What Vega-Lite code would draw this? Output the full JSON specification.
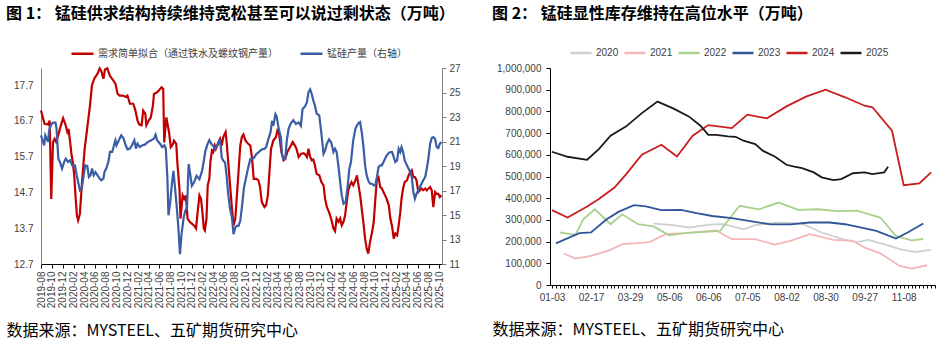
{
  "$schema": "https://vega.github.io/schema/vega-lite/v6.json",
  "background": "white",
  "padding": {"left": 6, "top": 6, "right": 0, "bottom": 4},
  "bounds": "flush",
  "spacing": 108,
  "config": {"view": {"stroke": null}, "font": "Noto Sans CJK SC"},
  "resolve": {"scale": {"color": "independent"}, "legend": {"color": "independent"}},
  "datasets": {
    "demand": [
      {"date":"2019-08-01","v":16.99},{"date":"2019-08-21","v":16.62},{"date":"2019-09-10","v":16.6},{"date":"2019-09-19","v":16.71},{"date":"2019-09-28","v":14.52},{"date":"2019-10-08","v":16.11},{"date":"2019-10-17","v":16.2},{"date":"2019-10-26","v":16.11},{"date":"2019-11-09","v":16.34},{"date":"2019-11-21","v":16.57},{"date":"2019-12-04","v":16.78},{"date":"2019-12-16","v":16.62},{"date":"2019-12-28","v":16.39},
      {"date":"2020-01-04","v":16.48},{"date":"2020-01-14","v":16.06},{"date":"2020-01-20","v":15.78},{"date":"2020-01-28","v":15.55},{"date":"2020-02-05","v":15.17},{"date":"2020-02-12","v":14.61},{"date":"2020-02-20","v":14.06},{"date":"2020-02-27","v":13.92},{"date":"2020-03-08","v":14.1},{"date":"2020-03-20","v":14.99},{"date":"2020-04-04","v":15.92},{"date":"2020-04-19","v":16.52},{"date":"2020-05-04","v":17.13},{"date":"2020-05-15","v":17.69},{"date":"2020-05-28","v":17.88},{"date":"2020-06-16","v":18.02},{"date":"2020-06-28","v":18.17},{"date":"2020-07-07","v":18.1},{"date":"2020-07-19","v":17.88},{"date":"2020-07-28","v":18.14},{"date":"2020-08-10","v":18.17},{"date":"2020-08-24","v":17.97},{"date":"2020-09-13","v":17.83},{"date":"2020-09-25","v":17.74},{"date":"2020-10-07","v":17.46},{"date":"2020-10-19","v":17.41},{"date":"2020-11-07","v":17.41},{"date":"2020-11-22","v":17.37},{"date":"2020-12-02","v":17.41},{"date":"2020-12-16","v":17.18},
      {"date":"2021-01-04","v":17.18},{"date":"2021-01-16","v":16.99},{"date":"2021-01-28","v":16.71},{"date":"2021-02-07","v":16.6},{"date":"2021-02-20","v":16.58},{"date":"2021-03-01","v":16.99},{"date":"2021-03-13","v":16.9},{"date":"2021-03-19","v":16.58},{"date":"2021-04-01","v":16.71},{"date":"2021-04-13","v":16.8},{"date":"2021-04-25","v":17.13},{"date":"2021-05-01","v":17.46},{"date":"2021-05-13","v":17.48},{"date":"2021-05-28","v":17.55},{"date":"2021-06-13","v":17.64},{"date":"2021-06-22","v":17.6},{"date":"2021-06-28","v":16.1},{"date":"2021-07-10","v":16.8},{"date":"2021-07-25","v":16.39},{"date":"2021-08-04","v":15.97},{"date":"2021-08-16","v":16.05},{"date":"2021-08-22","v":16.15},{"date":"2021-09-04","v":16.06},{"date":"2021-09-10","v":15.55},{"date":"2021-09-22","v":14.81},{"date":"2021-09-28","v":13.97},{"date":"2021-10-10","v":14.62},{"date":"2021-10-19","v":14.52},{"date":"2021-10-28","v":14.62},{"date":"2021-11-07","v":13.97},{"date":"2021-11-19","v":13.88},{"date":"2021-12-01","v":13.83},{"date":"2021-12-13","v":13.78},{"date":"2021-12-25","v":13.69},
      {"date":"2022-01-01","v":14.06},{"date":"2022-01-13","v":14.62},{"date":"2022-01-22","v":14.52},{"date":"2022-01-28","v":14.25},{"date":"2022-02-07","v":13.69},{"date":"2022-02-13","v":13.64},{"date":"2022-02-22","v":13.97},{"date":"2022-03-01","v":14.9},{"date":"2022-03-10","v":15.08},{"date":"2022-03-16","v":15.55},{"date":"2022-03-25","v":15.87},{"date":"2022-04-01","v":15.83},{"date":"2022-04-10","v":16.01},{"date":"2022-04-16","v":15.92},{"date":"2022-05-01","v":16.11},{"date":"2022-05-10","v":16.2},{"date":"2022-05-19","v":16.01},{"date":"2022-05-28","v":16.25},{"date":"2022-06-10","v":16.39},{"date":"2022-06-16","v":16.11},{"date":"2022-06-25","v":15.55},{"date":"2022-07-04","v":14.99},{"date":"2022-07-16","v":14.25},{"date":"2022-07-25","v":13.78},{"date":"2022-08-04","v":13.97},{"date":"2022-08-13","v":14.62},{"date":"2022-08-22","v":15.27},{"date":"2022-09-01","v":16.01},{"date":"2022-09-10","v":16.25},{"date":"2022-09-19","v":16.32},{"date":"2022-10-01","v":16.15},{"date":"2022-10-16","v":16.06},{"date":"2022-10-28","v":16.01},{"date":"2022-11-07","v":15.64},{"date":"2022-11-16","v":15.08},{"date":"2022-12-01","v":15.08},{"date":"2022-12-13","v":15.04},{"date":"2022-12-22","v":14.85},
      {"date":"2023-01-01","v":14.43},{"date":"2023-01-16","v":14.29},{"date":"2023-01-25","v":14.34},{"date":"2023-02-04","v":14.62},{"date":"2023-02-13","v":15.27},{"date":"2023-02-22","v":15.92},{"date":"2023-03-07","v":16.15},{"date":"2023-03-22","v":16.25},{"date":"2023-04-01","v":16.48},{"date":"2023-04-10","v":16.29},{"date":"2023-04-22","v":15.83},{"date":"2023-05-04","v":15.6},{"date":"2023-05-13","v":15.64},{"date":"2023-05-25","v":15.83},{"date":"2023-06-10","v":15.97},{"date":"2023-06-25","v":16.11},{"date":"2023-07-07","v":16.01},{"date":"2023-07-16","v":15.92},{"date":"2023-07-28","v":15.69},{"date":"2023-08-10","v":15.78},{"date":"2023-08-25","v":15.8},{"date":"2023-09-04","v":15.76},{"date":"2023-09-13","v":15.69},{"date":"2023-09-22","v":15.92},{"date":"2023-10-01","v":15.7},{"date":"2023-10-10","v":15.6},{"date":"2023-10-19","v":15.62},{"date":"2023-10-28","v":15.46},{"date":"2023-11-07","v":15.22},{"date":"2023-11-22","v":15.18},{"date":"2023-12-04","v":14.99},{"date":"2023-12-16","v":14.9},{"date":"2023-12-25","v":14.52},
      {"date":"2024-01-04","v":14.29},{"date":"2024-01-16","v":14.15},{"date":"2024-01-28","v":13.97},{"date":"2024-02-10","v":13.69},{"date":"2024-02-19","v":13.62},{"date":"2024-02-28","v":13.97},{"date":"2024-03-10","v":13.88},{"date":"2024-03-19","v":13.97},{"date":"2024-03-28","v":13.78},{"date":"2024-04-07","v":13.88},{"date":"2024-04-16","v":14.06},{"date":"2024-04-25","v":14.43},{"date":"2024-05-04","v":14.76},{"date":"2024-05-13","v":14.9},{"date":"2024-05-22","v":14.99},{"date":"2024-06-01","v":14.9},{"date":"2024-06-13","v":15.04},{"date":"2024-06-22","v":15.18},{"date":"2024-07-01","v":14.9},{"date":"2024-07-10","v":14.62},{"date":"2024-07-19","v":14.25},{"date":"2024-07-28","v":13.88},{"date":"2024-08-07","v":13.41},{"date":"2024-08-16","v":13.13},{"date":"2024-08-25","v":12.99},{"date":"2024-09-04","v":13.32},{"date":"2024-09-16","v":13.6},{"date":"2024-09-25","v":13.88},{"date":"2024-10-04","v":14.52},{"date":"2024-10-13","v":15.08},{"date":"2024-10-22","v":15.13},{"date":"2024-11-01","v":14.85},{"date":"2024-11-10","v":14.81},{"date":"2024-11-19","v":14.71},{"date":"2024-11-28","v":14.62},{"date":"2024-12-07","v":14.52},{"date":"2024-12-19","v":14.34},{"date":"2024-12-28","v":13.97},
      {"date":"2025-01-07","v":13.74},{"date":"2025-01-16","v":13.41},{"date":"2025-01-25","v":13.55},{"date":"2025-02-04","v":13.5},{"date":"2025-02-13","v":13.78},{"date":"2025-02-22","v":14.15},{"date":"2025-03-01","v":14.52},{"date":"2025-03-10","v":14.81},{"date":"2025-03-19","v":14.99},{"date":"2025-04-01","v":15.04},{"date":"2025-04-10","v":15.18},{"date":"2025-04-19","v":15.27},{"date":"2025-04-28","v":15.32},{"date":"2025-05-07","v":15.13},{"date":"2025-05-16","v":15.13},{"date":"2025-05-25","v":15.04},{"date":"2025-06-04","v":14.71},{"date":"2025-06-13","v":14.76},{"date":"2025-06-22","v":14.81},{"date":"2025-07-01","v":14.76},{"date":"2025-07-13","v":14.81},{"date":"2025-07-22","v":14.76},{"date":"2025-08-01","v":14.81},{"date":"2025-08-10","v":14.85},{"date":"2025-08-19","v":14.76},{"date":"2025-08-28","v":14.29},{"date":"2025-09-07","v":14.71},{"date":"2025-09-16","v":14.66},{"date":"2025-09-25","v":14.66},{"date":"2025-10-04","v":14.57},{"date":"2025-10-13","v":14.62}
    ],
    "output": [
      {"date":"2019-08-01","v":21.5},{"date":"2019-08-19","v":20.69},{"date":"2019-08-25","v":21.5},{"date":"2019-09-02","v":21.24},{"date":"2019-09-10","v":20.97},{"date":"2019-09-16","v":21.91},{"date":"2019-09-25","v":22.3},{"date":"2019-10-07","v":22.54},{"date":"2019-10-22","v":22.54},{"date":"2019-10-28","v":22.05},{"date":"2019-11-07","v":19.6},{"date":"2019-11-16","v":19.33},{"date":"2019-11-28","v":18.79},{"date":"2019-12-10","v":19.33},{"date":"2019-12-19","v":19.6},
      {"date":"2020-01-01","v":19.33},{"date":"2020-01-13","v":19.46},{"date":"2020-01-24","v":19.06},{"date":"2020-02-09","v":19.06},{"date":"2020-02-19","v":18.24},{"date":"2020-02-27","v":17.7},{"date":"2020-03-08","v":17.02},{"date":"2020-03-19","v":17.2},{"date":"2020-04-01","v":18.5},{"date":"2020-04-08","v":19.06},{"date":"2020-04-19","v":19.0},{"date":"2020-04-28","v":18.1},{"date":"2020-05-07","v":18.24},{"date":"2020-05-16","v":18.79},{"date":"2020-05-25","v":18.24},{"date":"2020-06-04","v":18.5},{"date":"2020-06-16","v":18.24},{"date":"2020-06-28","v":17.97},{"date":"2020-07-07","v":17.84},{"date":"2020-07-19","v":17.97},{"date":"2020-07-25","v":18.5},{"date":"2020-08-04","v":18.79},{"date":"2020-08-16","v":19.33},{"date":"2020-08-25","v":20.15},{"date":"2020-09-07","v":20.15},{"date":"2020-09-19","v":20.82},{"date":"2020-09-25","v":21.1},{"date":"2020-10-01","v":20.69},{"date":"2020-10-10","v":20.97},{"date":"2020-10-19","v":21.24},{"date":"2020-10-28","v":21.5},{"date":"2020-11-10","v":21.24},{"date":"2020-11-22","v":20.69},{"date":"2020-12-02","v":20.36},{"date":"2020-12-16","v":20.42},{"date":"2020-12-28","v":20.69},
      {"date":"2021-01-10","v":21.1},{"date":"2021-01-19","v":20.42},{"date":"2021-01-28","v":20.82},{"date":"2021-02-10","v":20.55},{"date":"2021-02-25","v":20.69},{"date":"2021-03-10","v":20.74},{"date":"2021-03-28","v":20.97},{"date":"2021-04-16","v":21.1},{"date":"2021-05-01","v":21.24},{"date":"2021-05-10","v":21.56},{"date":"2021-05-19","v":21.1},{"date":"2021-06-04","v":20.82},{"date":"2021-06-16","v":20.55},{"date":"2021-06-28","v":20.69},{"date":"2021-07-07","v":20.42},{"date":"2021-07-16","v":17.97},{"date":"2021-07-22","v":14.98},{"date":"2021-08-01","v":16.07},{"date":"2021-08-10","v":17.51},{"date":"2021-08-19","v":18.6},{"date":"2021-08-28","v":17.24},{"date":"2021-09-07","v":15.61},{"date":"2021-09-16","v":13.98},{"date":"2021-09-25","v":11.8},{"date":"2021-10-04","v":13.44},{"date":"2021-10-16","v":14.8},{"date":"2021-10-25","v":15.34},{"date":"2021-11-04","v":15.61},{"date":"2021-11-13","v":19.16},{"date":"2021-11-22","v":18.34},{"date":"2021-12-01","v":17.38},{"date":"2021-12-13","v":17.65},{"date":"2021-12-28","v":18.2},
      {"date":"2022-01-13","v":17.92},{"date":"2022-01-28","v":18.6},{"date":"2022-02-07","v":19.43},{"date":"2022-02-16","v":20.24},{"date":"2022-02-28","v":20.79},{"date":"2022-03-10","v":21.11},{"date":"2022-03-22","v":20.79},{"date":"2022-04-01","v":20.65},{"date":"2022-04-10","v":20.38},{"date":"2022-04-22","v":20.65},{"date":"2022-05-01","v":20.84},{"date":"2022-05-10","v":21.2},{"date":"2022-05-19","v":19.7},{"date":"2022-05-28","v":19.43},{"date":"2022-06-07","v":19.3},{"date":"2022-06-16","v":18.2},{"date":"2022-06-25","v":16.7},{"date":"2022-07-04","v":15.61},{"date":"2022-07-16","v":14.8},{"date":"2022-07-25","v":13.44},{"date":"2022-08-04","v":13.98},{"date":"2022-08-13","v":14.12},{"date":"2022-08-22","v":14.12},{"date":"2022-09-01","v":14.53},{"date":"2022-09-10","v":15.61},{"date":"2022-09-22","v":17.24},{"date":"2022-10-04","v":18.06},{"date":"2022-10-16","v":18.88},{"date":"2022-10-28","v":19.56},{"date":"2022-11-07","v":19.56},{"date":"2022-11-19","v":19.7},{"date":"2022-12-01","v":19.97},{"date":"2022-12-13","v":20.11},{"date":"2022-12-22","v":20.24},
      {"date":"2023-01-04","v":20.38},{"date":"2023-01-13","v":20.38},{"date":"2023-01-25","v":20.52},{"date":"2023-02-07","v":21.2},{"date":"2023-02-19","v":21.74},{"date":"2023-02-28","v":22.69},{"date":"2023-03-07","v":22.28},{"date":"2023-03-19","v":23.24},{"date":"2023-03-25","v":23.1},{"date":"2023-04-07","v":22.01},{"date":"2023-04-19","v":21.33},{"date":"2023-04-25","v":19.97},{"date":"2023-05-04","v":19.56},{"date":"2023-05-13","v":19.56},{"date":"2023-05-22","v":21.06},{"date":"2023-06-01","v":22.01},{"date":"2023-06-13","v":22.47},{"date":"2023-06-28","v":22.74},{"date":"2023-07-13","v":22.42},{"date":"2023-07-28","v":22.56},{"date":"2023-08-10","v":22.28},{"date":"2023-08-19","v":23.64},{"date":"2023-09-04","v":23.9},{"date":"2023-09-13","v":24.22},{"date":"2023-09-22","v":25.04},{"date":"2023-10-01","v":25.26},{"date":"2023-10-10","v":24.9},{"date":"2023-10-19","v":24.36},{"date":"2023-10-28","v":23.95},{"date":"2023-11-07","v":23.27},{"date":"2023-11-22","v":23.13},{"date":"2023-12-04","v":21.63},{"date":"2023-12-16","v":20.0},{"date":"2023-12-25","v":20.27},
      {"date":"2024-01-04","v":20.82},{"date":"2024-01-16","v":21.17},{"date":"2024-01-28","v":20.95},{"date":"2024-02-10","v":20.14},{"date":"2024-02-19","v":20.41},{"date":"2024-02-28","v":20.14},{"date":"2024-03-10","v":18.91},{"date":"2024-03-19","v":17.69},{"date":"2024-03-28","v":16.6},{"date":"2024-04-07","v":15.92},{"date":"2024-04-19","v":16.06},{"date":"2024-05-01","v":17.42},{"date":"2024-05-10","v":18.78},{"date":"2024-05-19","v":19.32},{"date":"2024-06-01","v":21.09},{"date":"2024-06-13","v":22.04},{"date":"2024-06-22","v":22.31},{"date":"2024-07-01","v":22.5},{"date":"2024-07-10","v":22.58},{"date":"2024-07-19","v":21.77},{"date":"2024-07-28","v":20.68},{"date":"2024-08-07","v":19.05},{"date":"2024-08-16","v":18.23},{"date":"2024-08-25","v":17.82},{"date":"2024-09-04","v":17.55},{"date":"2024-09-16","v":17.55},{"date":"2024-09-25","v":17.42},{"date":"2024-10-04","v":17.42},{"date":"2024-10-13","v":18.1},{"date":"2024-10-22","v":18.91},{"date":"2024-11-01","v":19.05},{"date":"2024-11-10","v":19.05},{"date":"2024-11-19","v":19.32},{"date":"2024-11-28","v":19.59},{"date":"2024-12-07","v":19.86},{"date":"2024-12-19","v":20.08},{"date":"2024-12-28","v":20.14},
      {"date":"2025-01-07","v":20.14},{"date":"2025-01-16","v":19.73},{"date":"2025-01-25","v":19.32},{"date":"2025-02-04","v":19.46},{"date":"2025-02-13","v":20.41},{"date":"2025-02-22","v":20.14},{"date":"2025-03-01","v":20.54},{"date":"2025-03-10","v":20.14},{"date":"2025-03-19","v":19.46},{"date":"2025-04-01","v":19.05},{"date":"2025-04-10","v":18.78},{"date":"2025-04-19","v":18.51},{"date":"2025-04-28","v":18.1},{"date":"2025-05-07","v":16.88},{"date":"2025-05-16","v":16.33},{"date":"2025-05-25","v":16.74},{"date":"2025-06-04","v":17.01},{"date":"2025-06-13","v":17.28},{"date":"2025-06-22","v":17.55},{"date":"2025-07-01","v":17.82},{"date":"2025-07-13","v":18.1},{"date":"2025-07-22","v":18.78},{"date":"2025-08-01","v":19.73},{"date":"2025-08-10","v":20.82},{"date":"2025-08-19","v":21.28},{"date":"2025-08-28","v":21.36},{"date":"2025-09-07","v":21.22},{"date":"2025-09-16","v":20.54},{"date":"2025-09-25","v":20.46},{"date":"2025-10-04","v":20.82},{"date":"2025-10-13","v":20.95}
    ],
    "stock": [
      {"year":"2020","week":26,"stock":283000},{"year":"2020","week":31,"stock":276000},{"year":"2020","week":35,"stock":265000},{"year":"2020","week":41,"stock":279000},{"year":"2020","week":44,"stock":280000},{"year":"2020","week":49,"stock":257000},{"year":"2020","week":52,"stock":276000},{"year":"2020","week":58,"stock":288000},{"year":"2020","week":64,"stock":283000},{"year":"2020","week":69,"stock":242000},{"year":"2020","week":75,"stock":208000},{"year":"2020","week":78,"stock":198000},{"year":"2020","week":81,"stock":208000},{"year":"2020","week":86,"stock":183000},{"year":"2020","week":89,"stock":165000},{"year":"2020","week":93,"stock":152000},{"year":"2020","week":97,"stock":162000},
      {"year":"2021","week":3,"stock":145000},{"year":"2021","week":6,"stock":122000},{"year":"2021","week":10,"stock":134000},{"year":"2021","week":15,"stock":162000},{"year":"2021","week":18,"stock":188000},{"year":"2021","week":21,"stock":192000},{"year":"2021","week":25,"stock":198000},{"year":"2021","week":29,"stock":234000},{"year":"2021","week":34,"stock":239000},{"year":"2021","week":42,"stock":251000},{"year":"2021","week":46,"stock":211000},{"year":"2021","week":52,"stock":211000},{"year":"2021","week":57,"stock":186000},{"year":"2021","week":61,"stock":203000},{"year":"2021","week":66,"stock":234000},{"year":"2021","week":72,"stock":208000},{"year":"2021","week":77,"stock":203000},{"year":"2021","week":80,"stock":172000},{"year":"2021","week":84,"stock":146000},{"year":"2021","week":89,"stock":88000},{"year":"2021","week":92,"stock":76000},{"year":"2021","week":96,"stock":91000},
      {"year":"2022","week":2,"stock":242000},{"year":"2022","week":6,"stock":231000},{"year":"2022","week":8,"stock":303000},{"year":"2022","week":11,"stock":349000},{"year":"2022","week":15,"stock":280000},{"year":"2022","week":18,"stock":326000},{"year":"2022","week":22,"stock":280000},{"year":"2022","week":26,"stock":270000},{"year":"2022","week":30,"stock":229000},{"year":"2022","week":34,"stock":239000},{"year":"2022","week":43,"stock":249000},{"year":"2022","week":48,"stock":365000},{"year":"2022","week":53,"stock":349000},{"year":"2022","week":58,"stock":380000},{"year":"2022","week":63,"stock":346000},{"year":"2022","week":68,"stock":349000},{"year":"2022","week":73,"stock":340000},{"year":"2022","week":78,"stock":343000},{"year":"2022","week":84,"stock":311000},{"year":"2022","week":88,"stock":226000},{"year":"2022","week":92,"stock":206000},{"year":"2022","week":95,"stock":212000},
      {"year":"2023","week":1,"stock":192000},{"year":"2023","week":7,"stock":239000},{"year":"2023","week":10,"stock":242000},{"year":"2023","week":14,"stock":303000},{"year":"2023","week":17,"stock":337000},{"year":"2023","week":21,"stock":368000},{"year":"2023","week":24,"stock":362000},{"year":"2023","week":28,"stock":345000},{"year":"2023","week":33,"stock":346000},{"year":"2023","week":37,"stock":331000},{"year":"2023","week":41,"stock":318000},{"year":"2023","week":46,"stock":308000},{"year":"2023","week":56,"stock":279000},{"year":"2023","week":61,"stock":279000},{"year":"2023","week":66,"stock":288000},{"year":"2023","week":71,"stock":288000},{"year":"2023","week":75,"stock":280000},{"year":"2023","week":83,"stock":249000},{"year":"2023","week":88,"stock":214000},{"year":"2023","week":91,"stock":242000},{"year":"2023","week":95,"stock":283000},
      {"year":"2024","week":0,"stock":345000},{"year":"2024","week":4,"stock":311000},{"year":"2024","week":9,"stock":362000},{"year":"2024","week":12,"stock":396000},{"year":"2024","week":16,"stock":449000},{"year":"2024","week":19,"stock":511000},{"year":"2024","week":23,"stock":600000},{"year":"2024","week":28,"stock":646000},{"year":"2024","week":32,"stock":592000},{"year":"2024","week":36,"stock":688000},{"year":"2024","week":40,"stock":737000},{"year":"2024","week":46,"stock":723000},{"year":"2024","week":50,"stock":785000},{"year":"2024","week":55,"stock":768000},{"year":"2024","week":60,"stock":823000},{"year":"2024","week":65,"stock":868000},{"year":"2024","week":70,"stock":900000},{"year":"2024","week":75,"stock":865000},{"year":"2024","week":80,"stock":826000},{"year":"2024","week":82,"stock":819000},{"year":"2024","week":87,"stock":711000},{"year":"2024","week":90,"stock":460000},{"year":"2024","week":94,"stock":468000},{"year":"2024","week":97,"stock":519000},
      {"year":"2025","week":0,"stock":614000},{"year":"2025","week":4,"stock":591000},{"year":"2025","week":9,"stock":577000},{"year":"2025","week":12,"stock":626000},{"year":"2025","week":15,"stock":688000},{"year":"2025","week":19,"stock":731000},{"year":"2025","week":23,"stock":792000},{"year":"2025","week":27,"stock":845000},{"year":"2025","week":31,"stock":814000},{"year":"2025","week":35,"stock":777000},{"year":"2025","week":38,"stock":734000},{"year":"2025","week":40,"stock":692000},{"year":"2025","week":42,"stock":692000},{"year":"2025","week":45,"stock":685000},{"year":"2025","week":47,"stock":683000},{"year":"2025","week":49,"stock":665000},{"year":"2025","week":52,"stock":649000},{"year":"2025","week":54,"stock":618000},{"year":"2025","week":57,"stock":592000},{"year":"2025","week":60,"stock":554000},{"year":"2025","week":62,"stock":546000},{"year":"2025","week":64,"stock":539000},{"year":"2025","week":67,"stock":519000},{"year":"2025","week":69,"stock":496000},{"year":"2025","week":72,"stock":483000},{"year":"2025","week":74,"stock":488000},{"year":"2025","week":77,"stock":515000},{"year":"2025","week":80,"stock":519000},{"year":"2025","week":82,"stock":511000},{"year":"2025","week":85,"stock":519000},{"year":"2025","week":86,"stock":545000}
    ]
  },
  "hconcat": [
    {
      "title": {"text": "图 1：  锰硅供求结构持续维持宽松甚至可以说过剩状态（万吨）", "anchor": "start", "frame": "group", "dx": -35, "offset": 19, "limit": 1000, "font": "Noto Sans CJK SC", "fontSize": 16, "fontWeight": "bold", "color": "#000000"},
      "width": 401,
      "height": 196,
      "encoding": {
        "x": {"field": "date", "type": "temporal",
          "scale": {"type": "utc", "domain": [{"year": 2019, "month": 8, "date": 1, "utc": true}, {"year": 2025, "month": 10, "date": 16, "utc": true}]},
          "axis": {"title": "数据来源：MYSTEEL、五矿期货研究中心", "titleX": -35, "titleY": 66, "titleAlign": "left", "titleBaseline": "middle", "titleFont": "Noto Sans CJK SC", "titleFontSize": 16, "titleFontWeight": "normal", "titleColor": "#000000",
            "values": [
              {"year":2019,"month":8,"date":1,"utc":true},{"year":2019,"month":10,"date":1,"utc":true},{"year":2019,"month":12,"date":1,"utc":true},
              {"year":2020,"month":2,"date":1,"utc":true},{"year":2020,"month":4,"date":1,"utc":true},{"year":2020,"month":6,"date":1,"utc":true},{"year":2020,"month":8,"date":1,"utc":true},{"year":2020,"month":10,"date":1,"utc":true},{"year":2020,"month":12,"date":1,"utc":true},
              {"year":2021,"month":2,"date":1,"utc":true},{"year":2021,"month":4,"date":1,"utc":true},{"year":2021,"month":6,"date":1,"utc":true},{"year":2021,"month":8,"date":1,"utc":true},{"year":2021,"month":10,"date":1,"utc":true},{"year":2021,"month":12,"date":1,"utc":true},
              {"year":2022,"month":2,"date":1,"utc":true},{"year":2022,"month":4,"date":1,"utc":true},{"year":2022,"month":6,"date":1,"utc":true},{"year":2022,"month":8,"date":1,"utc":true},{"year":2022,"month":10,"date":1,"utc":true},{"year":2022,"month":12,"date":1,"utc":true},
              {"year":2023,"month":2,"date":1,"utc":true},{"year":2023,"month":4,"date":1,"utc":true},{"year":2023,"month":6,"date":1,"utc":true},{"year":2023,"month":8,"date":1,"utc":true},{"year":2023,"month":10,"date":1,"utc":true},{"year":2023,"month":12,"date":1,"utc":true},
              {"year":2024,"month":2,"date":1,"utc":true},{"year":2024,"month":4,"date":1,"utc":true},{"year":2024,"month":6,"date":1,"utc":true},{"year":2024,"month":8,"date":1,"utc":true},{"year":2024,"month":10,"date":1,"utc":true},{"year":2024,"month":12,"date":1,"utc":true},
              {"year":2025,"month":2,"date":1,"utc":true},{"year":2025,"month":4,"date":1,"utc":true},{"year":2025,"month":6,"date":1,"utc":true},{"year":2025,"month":8,"date":1,"utc":true},{"year":2025,"month":10,"date":1,"utc":true}
            ],
            "labelExpr": "utcFormat(datum.value, '%Y-%m')", "labelAngle": -90, "labelFont": "Liberation Sans", "labelFontSize": 10, "labelColor": "#404040", "labelPadding": 3, "tickSize": 4, "tickColor": "#000000", "domainColor": "#000000", "labelFlush": false, "labelOverlap": false, "grid": false}
        }
      },
      "layer": [
        {
          "data": {"name": "demand"},
          "mark": {"type": "line", "strokeWidth": 2.2},
          "encoding": {
            "y": {"field": "v", "type": "quantitative", "scale": {"domain": [12.7, 18.18], "zero": false, "nice": false},
              "axis": {"orient": "left", "title": null, "values": [12.7, 13.7, 14.7, 15.7, 16.7, 17.7], "labelExpr": "format(datum.value, '.1f')", "labelFont": "Liberation Sans", "labelFontSize": 10, "labelColor": "#404040", "ticks": false, "labelPadding": 8, "domainColor": "#808080", "grid": false}},
            "color": {"datum": "需求简单拟合（通过铁水及螺纹钢产量）", "type": "nominal",
              "scale": {"domain": ["需求简单拟合（通过铁水及螺纹钢产量）", "锰硅产量（右轴）"], "range": ["#c00000", "#3a5da6"]},
              "legend": {"orient": "none", "legendX": 29, "legendY": -27, "direction": "horizontal", "columns": 2, "title": null, "symbolType": "stroke", "symbolSize": 484, "symbolStrokeWidth": 2.5, "labelFont": "Noto Sans CJK SC", "labelFontSize": 10, "labelColor": "#404040", "labelLimit": 400, "columnPadding": 17, "labelOffset": 3, "padding": 0}}
          }
        },
        {
          "data": {"name": "output"},
          "mark": {"type": "line", "strokeWidth": 2.2},
          "encoding": {
            "y": {"field": "v", "type": "quantitative", "scale": {"domain": [11, 27], "zero": false, "nice": false},
              "axis": {"orient": "right", "title": null, "values": [11, 13, 15, 17, 19, 21, 23, 25, 27], "labelFont": "Liberation Sans", "labelFontSize": 10, "labelColor": "#404040", "tickSize": 4, "tickColor": "#808080", "labelPadding": 3, "domainColor": "#808080", "grid": false}},
            "color": {"datum": "锰硅产量（右轴）", "type": "nominal"}
          }
        }
      ],
      "resolve": {"scale": {"y": "independent"}}
    },
    {
      "title": {"text": "图 2：  锰硅显性库存维持在高位水平（万吨）", "anchor": "start", "frame": "group", "dx": -58, "offset": 19, "limit": 1000, "font": "Noto Sans CJK SC", "fontSize": 16, "fontWeight": "bold", "color": "#000000"},
      "width": 385,
      "height": 217,
      "data": {"name": "stock"},
      "mark": {"type": "line", "strokeWidth": 1.8},
      "encoding": {
        "x": {"field": "week", "type": "quantitative", "scale": {"domain": [-0.5, 98], "nice": false, "zero": false},
          "axis": {"title": "数据来源：MYSTEEL、五矿期货研究中心", "titleX": -58, "titleY": 44, "titleAlign": "left", "titleBaseline": "middle", "titleFont": "Noto Sans CJK SC", "titleFontSize": 16, "titleFontWeight": "normal", "titleColor": "#000000",
            "tickCount": 100,
            "labelExpr": "datum.value==0?'01-03':datum.value==10?'02-17':datum.value==20?'03-29':datum.value==30?'05-06':datum.value==40?'06-06':datum.value==50?'07-05':datum.value==60?'08-02':datum.value==70?'08-30':datum.value==80?'09-27':datum.value==90?'11-08':''",
            "labelFont": "Liberation Sans", "labelFontSize": 10, "labelColor": "#404040", "labelPadding": 4, "tickSize": 3, "tickColor": "#000000", "domainColor": "#000000", "labelFlush": false, "labelOverlap": false, "grid": false}},
        "y": {"field": "stock", "type": "quantitative", "scale": {"domain": [0, 1000000], "nice": false},
          "axis": {"title": null, "values": [0, 100000, 200000, 300000, 400000, 500000, 600000, 700000, 800000, 900000, 1000000], "labelExpr": "format(datum.value, ',')", "labelFont": "Liberation Sans", "labelFontSize": 10, "labelColor": "#404040", "tickSize": 4, "tickColor": "#000000", "labelPadding": 5, "domainColor": "#000000", "grid": false}},
        "color": {"field": "year", "type": "nominal",
          "scale": {"domain": ["2020", "2021", "2022", "2023", "2024", "2025"], "range": ["#d0d0d0", "#f4b6b8", "#a9d18e", "#2f5597", "#c81e1e", "#1a1a1a"]},
          "legend": {"orient": "none", "legendX": 19, "legendY": -27, "direction": "horizontal", "columns": 6, "title": null, "symbolType": "stroke", "symbolSize": 441, "symbolStrokeWidth": 2.5, "labelFont": "Liberation Sans", "labelFontSize": 10, "labelColor": "#404040", "columnPadding": 0, "labelOffset": 3, "padding": 0}}
      }
    }
  ]
}
